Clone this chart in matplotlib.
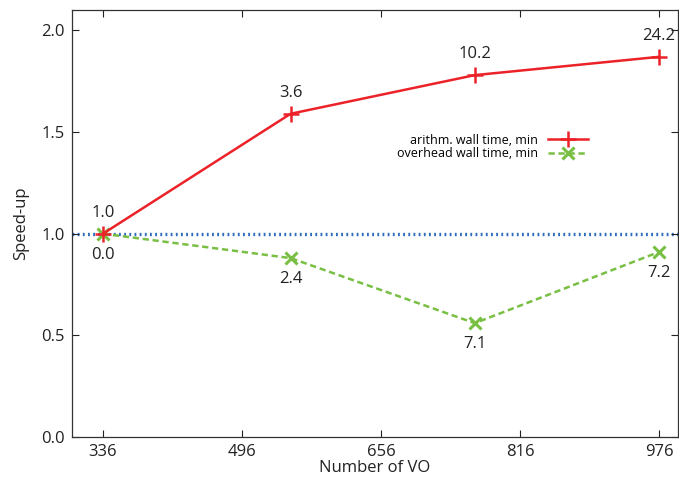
import matplotlib
matplotlib.use("Agg")
import matplotlib.pyplot as plt

plt.rcParams['font.family'] = ['Open Sans', 'DejaVu Sans']

# values
vo = [336, 552, 764, 976]
arith_speedup = [1.0, 1.59, 1.78, 1.87]
overhead_speedup = [1.0, 0.88, 0.56, 0.91]
arith_labels = ["1.0", "3.6", "10.2", "24.2"]
overhead_labels = ["0.0", "2.4", "7.1", "7.2"]
xticks = [336, 496, 656, 816, 976]
yticks = [0.0, 0.5, 1.0, 1.5, 2.0]

RED = "#ec2229"
GREEN = "#78bf44"
BLUE = "#2f6cbd"

fig = plt.figure(figsize=(6.79, 4.8), dpi=100)
ax = fig.add_axes([0.1056, 0.0896, 0.893, 0.8894])

ax.axhline(1.0, color=BLUE, lw=2.4, ls=(0, (0.55, 1.0)), zorder=1)
ax.plot(vo, arith_speedup, color=RED, lw=1.8, marker="+", ms=11, mew=1.8,
        label="arithm. wall time, min", zorder=3)
ax.plot(vo, overhead_speedup, color=GREEN, lw=1.8, ls=(0, (2.5, 1.5)), marker="x",
        ms=9, mew=2.2, label="overhead wall time, min", zorder=2)

for x, y, t in zip(vo, arith_speedup, arith_labels):
    ax.annotate(t, (x, y), xytext=(0, 15), textcoords="offset points",
                ha="center", va="center", fontsize=12, color="#222222")
for x, y, t in zip(vo, overhead_speedup, overhead_labels):
    ax.annotate(t, (x, y), xytext=(0, -15), textcoords="offset points",
                ha="center", va="center", fontsize=12, color="#222222")

ax.set_xlim(300, 998)
ax.set_ylim(0, 2.1)
ax.set_xticks(xticks)
ax.set_yticks(yticks)
ax.set_yticklabels(["%.1f" % v for v in yticks])
ax.tick_params(direction="in", top=True, right=True, length=5, width=0.8,
               labelsize=12, colors="#222222", pad=5)
for s in ax.spines.values():
    s.set_linewidth(0.9)
    s.set_color("#333333")

ax.set_xlabel("Number of VO", fontsize=12, labelpad=0, color="#222222")
ax.set_ylabel("Speed-up", fontsize=12, labelpad=9, color="#222222")

ax.legend(loc="upper right", bbox_to_anchor=(0.86, 0.722), frameon=False,
          fontsize=9, markerfirst=False, handlelength=3.2, handletextpad=0.8,
          labelspacing=0.05, borderaxespad=0)

fig.savefig("out.png", dpi=100)
